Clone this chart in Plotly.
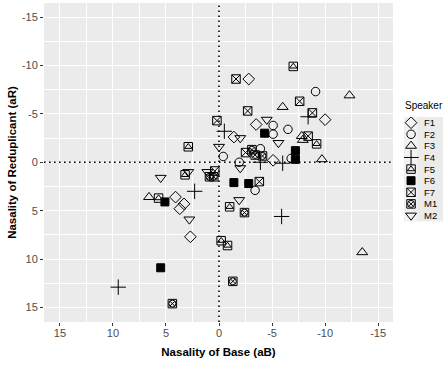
import plotly.graph_objects as go

# ---------------- data ----------------
speakers = ["F1", "F2", "F3", "F4", "F5", "F6", "F7", "M1", "M2"]

f1_base  = [-2.8, -1.4, -3.5, -10.0, -5.1, 4.1, 3.3, 3.7, 2.7]
f1_redup = [-8.6, -2.6, -3.9, -4.4, -0.2, 3.6, 4.3, 4.8, 7.7]

f2_base  = [-9.1, -5.1, -5.1, -6.5, -0.4, -1.9, -3.9, -6.8, -3.4]
f2_redup = [-7.3, -3.8, -2.9, -3.4, -0.6, 0.0, -1.4, -0.4, 2.9]

f3_base  = [-12.3, -6.0, -7.8, -7.9, -9.7, 6.6, -13.5]
f3_redup = [-6.9, -5.7, -2.7, -2.3, -0.3, 3.6, 9.3]

f4_base  = [-0.5, -8.4, -6.0, -3.9, 2.3, 9.5, -5.9]
f4_redup = [-3.2, -4.7, 0.1, 0.0, 3.0, 12.9, 5.6]

f5_base  = [2.9, 3.2, 5.7, -1.0, -0.2, -0.8, -9.2, -7.0]
f5_redup = [-1.6, 1.3, 3.7, 4.6, 8.1, 8.6, -1.9, -9.9]

f6_base  = [-4.3, -7.2, -7.2, -1.4, -2.8, 5.1, 5.5]
f6_redup = [-3.0, -1.2, -0.3, 2.1, 2.2, 4.1, 10.9]

f7_base  = [-1.6, 0.2, -2.7, -7.6, -8.8, -8.4, -2.5, 0.4, -3.8]
f7_redup = [-8.6, -4.3, -5.3, -6.3, -5.1, -2.7, -1.0, 0.9, 2.0]

m1_base  = [-3.1, -3.4, -4.1, 0.9, 0.5, -2.4, 4.4, -1.3]
m1_redup = [-1.3, -0.75, -0.65, 1.5, 1.5, 5.2, 14.6, 12.3]

m2_base  = [-2.0, -4.5, -5.6, 0.0, -2.0, 5.5, 2.9, 1.1, 2.8, -1.9]
m2_redup = [-2.5, -4.4, -2.0, -1.6, 0.6, 1.6, 1.0, 1.0, 5.9, 3.9]

tick_vals = [15, 10, 5, 0, -5, -10, -15]
tick_text = ["15", "10", "5", "0", "-5", "-10", "-15"]
minor_vals = [12.5, 7.5, 2.5, -2.5, -7.5, -12.5]

# ---------------- styling ----------------
base_data = [f1_base, f2_base, f3_base, f4_base, f5_base, f6_base, f7_base, m1_base, m2_base]
redup_data = [f1_redup, f2_redup, f3_redup, f4_redup, f5_redup, f6_redup, f7_redup, m1_redup, m2_redup]

symbol_layers = {
    "F1": [("diamond-open", 9)],
    "F2": [("circle-open", 8.5)],
    "F3": [("triangle-up-open", 9.5)],
    "F4": [("cross-thin-open", 11)],
    "F5": [("square-open", 8.5), ("triangle-up-open", 6.5)],
    "F6": [("square", 8)],
    "F7": [("square-x-open", 8.5)],
    "M1": [("square-open", 8.5), ("circle-x-open", 7)],
    "M2": [("triangle-down-open", 9.5)],
}

FONT = "Liberation Sans, Arial, sans-serif"
fig = go.Figure()

for sp, xs, ys in zip(speakers, base_data, redup_data):
    for sym, size in symbol_layers[sp]:
        fig.add_trace(go.Scatter(
            x=xs, y=ys, mode="markers", name=sp, showlegend=False,
            marker=dict(symbol=sym, size=size, color="black",
                        line=dict(color="black", width=1)),
            xaxis="x", yaxis="y",
        ))

# manual legend (keys drawn on a small helper axis)
key_rows = list(range(len(speakers)))
for sp, row in zip(speakers, key_rows):
    for sym, size in symbol_layers[sp]:
        fig.add_trace(go.Scatter(
            x=[0.18], y=[row], mode="markers", showlegend=False, hoverinfo="skip",
            marker=dict(symbol=sym, size=size, color="black",
                        line=dict(color="black", width=1)),
            xaxis="x2", yaxis="y2",
        ))
    fig.add_shape(type="rect", xref="x2", yref="y2", x0=0.02, x1=0.34,
                  y0=row - 0.5, y1=row + 0.5, fillcolor="#F2F2F2",
                  line=dict(width=0), layer="below")
    fig.add_annotation(xref="x2", yref="y2", x=0.47, y=row, text=sp,
                       showarrow=False, xanchor="left", yanchor="middle",
                       font=dict(family=FONT, size=9.5, color="black"))

fig.add_annotation(xref="paper", yref="paper", x=0.901, y=0.678, text="Speaker",
                   showarrow=False, xanchor="left", yanchor="middle",
                   font=dict(family=FONT, size=10, color="black"))

# dotted zero lines
dot = dict(color="black", width=1.6, dash="1.6px,3.4px")
fig.add_shape(type="line", xref="x", yref="y domain", x0=0, x1=0, y0=0, y1=1, line=dot)
fig.add_shape(type="line", xref="x domain", yref="y", x0=0, x1=1, y0=0, y1=0, line=dot)

axis_common = dict(
    tickvals=tick_vals, ticktext=tick_text, ticks="outside", ticklen=3,
    tickcolor="#333333", tickwidth=1,
    tickfont=dict(family=FONT, size=11, color="#4D4D4D"),
    showgrid=True, gridcolor="white", gridwidth=1.1,
    minor=dict(tickvals=minor_vals, showgrid=True, gridcolor="white", gridwidth=0.55, ticks=""),
    zeroline=False, showline=False, automargin=False,
)

fig.update_layout(
    width=443, height=366, autosize=False,
    margin=dict(l=44, r=0, t=3, b=44),
    paper_bgcolor="white", plot_bgcolor="#EBEBEB",
    font=dict(family=FONT, color="black"),
    xaxis=dict(domain=[0, 349 / 399], range=[16.5, -16.4], ticklabelstandoff=-2,
               title=dict(text="<b>Nasality of Base (aB)</b>", standoff=9,
                          font=dict(family=FONT, size=11.5, color="black")),
               **axis_common),
    yaxis=dict(domain=[0, 1], range=[16.5, -16.45],
               title=dict(text="<b>Nasality of Reduplicant (aR)</b>", standoff=2,
                          font=dict(family=FONT, size=11.5, color="black")),
               **axis_common),
    xaxis2=dict(domain=[0.9023, 1.0], range=[0, 1], visible=False, fixedrange=True,
                anchor="y2"),
    yaxis2=dict(domain=[0.3157, 0.6430], range=[8.5, -0.5], visible=False, fixedrange=True,
                anchor="x2"),
    showlegend=False,
)

fig.write_html(
    "out.html",
    config={"displayModeBar": False},
    post_script="document.body.style.margin='0';document.body.style.overflow='hidden';",
)
